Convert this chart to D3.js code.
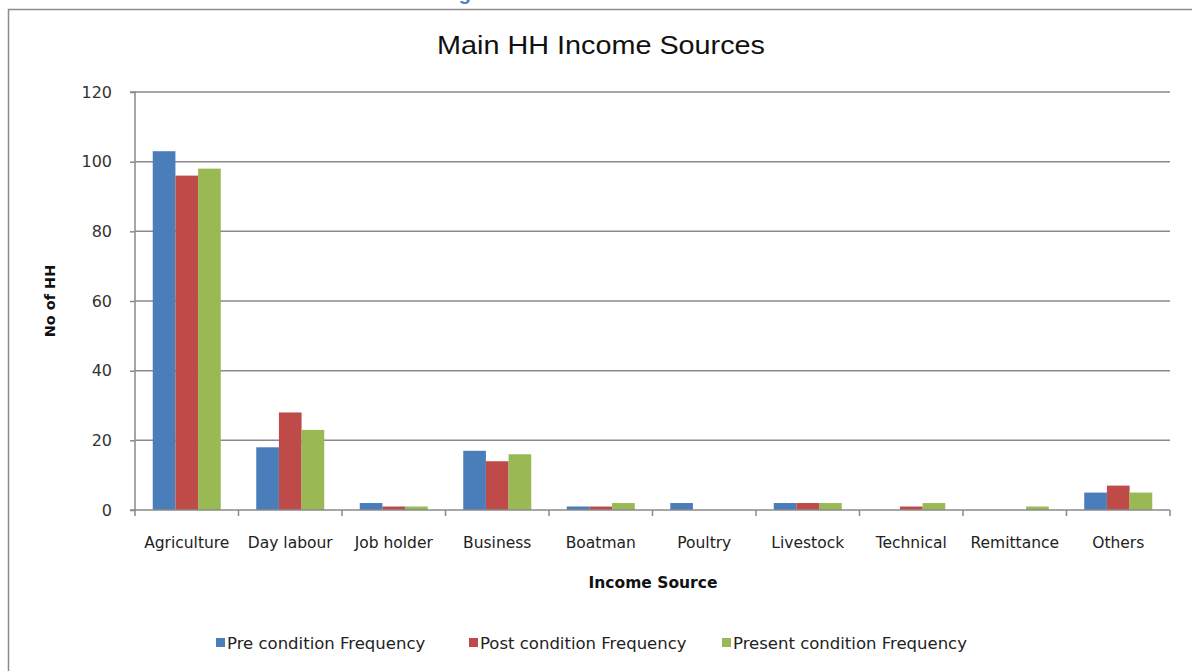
<!DOCTYPE html>
<html>
<head>
<meta charset="utf-8">
<script src="https://cdn.jsdelivr.net/npm/d3@7"></script>
<style>
  html, body { margin: 0; padding: 0; background: #fff; overflow: hidden; }
  svg { display: block; }
</style>
</head>
<body>
<svg id="chart" width="1192" height="671"></svg>
<script>
// Income source categories and household counts per condition
const categories = ["Agriculture", "Day labour", "Job holder", "Business", "Boatman",
                    "Poultry", "Livestock", "Technical", "Remittance", "Others"];
const preCondition = [103, 18, 2, 17, 1, 2, 2, 0, 0, 5];
const postCondition = [96, 28, 1, 14, 1, 0, 2, 1, 0, 7];
const presentCondition = [98, 23, 1, 16, 2, 0, 2, 2, 1, 5];
const seriesNames = ["Pre condition Frequency", "Post condition Frequency", "Present condition Frequency"];
const seriesColors = ["#4a7ebb", "#be4b48", "#98b954"];
const yTicks = [0, 20, 40, 60, 80, 100, 120];

const series = [preCondition, postCondition, presentCondition];

const svg = d3.select("#chart");
const W = 1192, H = 671;
const plot = { left: 135, right: 1170, top: 92, bottom: 510 };
const FONT = "DejaVu Sans, Verdana, sans-serif";

// Caption above the chart frame (only its lower edge falls inside the page)
svg.append("text")
  .attr("x", 606).attr("y", 0)
  .attr("text-anchor", "middle")
  .attr("font-family", "Liberation Sans, Arial, sans-serif")
  .attr("font-size", 20).attr("font-weight", "bold")
  .attr("fill", "#4f81bd")
  .text("Figure 3: Main HH Income Sources");

// Chart frame
svg.append("rect")
  .attr("x", 8.5).attr("y", 9.5)
  .attr("width", W + 20).attr("height", H + 20)
  .attr("fill", "#fff")
  .attr("stroke", "#8c8c8c").attr("stroke-width", 1.5);

const x = d3.scaleBand()
  .domain(categories)
  .range([plot.left, plot.right])
  .paddingInner(0.343).paddingOuter(0.1715);

const xSeries = d3.scaleBand()
  .domain(d3.range(series.length))
  .range([0, x.bandwidth()]);

const y = d3.scaleLinear().domain([0, 120]).range([plot.bottom, plot.top]);

// Horizontal gridlines
svg.append("g")
  .selectAll("line")
  .data(yTicks.filter(t => t > 0))
  .join("line")
  .attr("x1", plot.left).attr("x2", plot.right)
  .attr("y1", d => y(d)).attr("y2", d => y(d))
  .attr("stroke", "#8a8a8a").attr("stroke-width", 1.5);

// Bars
const groups = svg.append("g")
  .selectAll("g")
  .data(categories)
  .join("g")
  .attr("transform", d => `translate(${x(d)},0)`);

groups.selectAll("rect")
  .data((c, i) => series.map((s, k) => ({ k, v: s[i] })))
  .join("rect")
  .attr("x", d => xSeries(d.k))
  .attr("width", xSeries.bandwidth())
  .attr("y", d => y(d.v))
  .attr("height", d => y(0) - y(d.v))
  .attr("fill", d => seriesColors[d.k]);

// Y axis
const yAxis = d3.axisLeft(y).tickValues(yTicks).tickSize(5).tickPadding(18).tickFormat(d3.format("d"));
const gy = svg.append("g").attr("transform", `translate(${plot.left},0)`).call(yAxis);
gy.select(".domain").attr("stroke", "#8a8a8a").attr("stroke-width", 1.5).attr("d", `M-5,${plot.top}H0V${plot.bottom}H-5`);
gy.selectAll(".tick line").attr("stroke", "#8a8a8a").attr("stroke-width", 1.5);
gy.selectAll(".tick text")
  .attr("font-family", FONT)
  .attr("font-size", 16).attr("fill", "#333");

// X axis: baseline with ticks at category boundaries
const gx = svg.append("g").attr("transform", `translate(0,${plot.bottom})`);
gx.append("line")
  .attr("x1", plot.left).attr("x2", plot.right)
  .attr("stroke", "#8a8a8a").attr("stroke-width", 1.5);
const boundaries = categories.map(c => x(c) - x.step() * x.paddingInner() / 2)
  .concat([plot.right]);
gx.selectAll("line.tick")
  .data(boundaries)
  .join("line")
  .attr("class", "tick")
  .attr("x1", d => d).attr("x2", d => d)
  .attr("y1", 0).attr("y2", 6)
  .attr("stroke", "#8a8a8a").attr("stroke-width", 1.5);
gx.selectAll("text.cat")
  .data(categories)
  .join("text")
  .attr("class", "cat")
  .attr("x", d => x(d) + x.bandwidth() / 2)
  .attr("y", 38)
  .attr("text-anchor", "middle")
  .attr("font-family", FONT)
  .attr("font-size", 15.5).attr("fill", "#222")
  .text(d => d);

// Title
svg.append("text")
  .attr("x", 601).attr("y", 54)
  .attr("text-anchor", "middle")
  .attr("font-family", "Liberation Sans, Arial, sans-serif")
  .attr("font-size", 25).attr("fill", "#111")
  .attr("textLength", 328).attr("lengthAdjust", "spacingAndGlyphs")
  .text("Main HH Income Sources");

// Axis titles
svg.append("text")
  .attr("transform", `translate(55,${(plot.top + plot.bottom) / 2}) rotate(-90)`)
  .attr("text-anchor", "middle")
  .attr("font-family", FONT)
  .attr("font-size", 14.5).attr("font-weight", "bold").attr("fill", "#111")
  .text("No of HH");

svg.append("text")
  .attr("x", 653).attr("y", 588)
  .attr("text-anchor", "middle")
  .attr("font-family", FONT)
  .attr("font-size", 15.5).attr("font-weight", "bold").attr("fill", "#111")
  .text("Income Source");

// Legend
const legendX = [216, 469, 722];
const legend = svg.append("g")
  .selectAll("g")
  .data(seriesNames)
  .join("g")
  .attr("transform", (d, i) => `translate(${legendX[i]},643)`);
legend.append("rect")
  .attr("x", 0).attr("y", -5).attr("width", 9).attr("height", 9)
  .attr("fill", (d, i) => seriesColors[i]);
legend.append("text")
  .attr("x", 11).attr("y", 6)
  .attr("font-family", FONT)
  .attr("font-size", 16.5).attr("fill", "#222")
  .text(d => d);
</script>
</body>
</html>
